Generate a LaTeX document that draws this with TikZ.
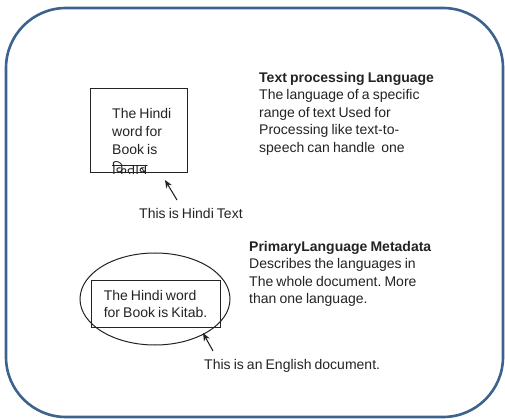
\documentclass[tikz,border=0pt]{standalone}
\usepackage{fontspec}
\setmainfont[WordSpace=0.8]{Liberation Sans}
\newfontfamily\hindifont[Script=Devanagari]{Noto Sans}
\usepackage{tikz}
\usetikzlibrary{shapes,arrows.meta}
\frenchspacing
\definecolor{framecol}{RGB}{60,98,142}
\definecolor{inkcol}{RGB}{35,35,35}
\tikzstyle{arrow} = [line width=1.1pt,inkcol,-{Stealth[length=8pt,width=6.5pt]}]
\tikzstyle{note} = [anchor=north west,inner sep=0pt,align=left,text=inkcol,font=\fontsize{14}{17.5}\selectfont]

\begin{document}
\begin{tikzpicture}[x=1pt,y=-1pt]
    \useasboundingbox (0,0) rectangle (505,419);
    \node[draw=framecol,line width=2.6pt,rectangle,rounded corners=60pt,minimum width=497pt,
        minimum height=409pt,inner sep=0pt] (frame) at (254.5,212.5) {};
    % upper half: hindi text
    \node[draw=inkcol,line width=1pt,rectangle,minimum width=97pt,minimum height=84pt,
        inner sep=0pt] (hindibox) at (138.5,131) {};
    \node[note,font=\fontsize{14}{18}\selectfont] (hinditext) at (112,108)
        {The Hindi\\word for\\Book is\\[2pt]{\hindifont\fontsize{14.5}{18}\selectfont किताब}};
    \node[note] (hindilabel) at (139,208) {This is Hindi Text};
    \coordinate (hinditail) at (177,200);
    \coordinate (hinditip) at (165,180);
    \draw[arrow] (hinditail) -- (hinditip);
    \node[note] (tpl) at (259,72)
        {\textbf{Text processing Language}\\The language of a specific\\range of text Used for\\Processing like text-to-\\speech can handle\ \ one};
    % lower half: english document
    \node[draw=inkcol,line width=1pt,ellipse,minimum width=150pt,minimum height=92pt,
        inner sep=0pt] (docellipse) at (155,299) {};
    \node[draw=inkcol,line width=1pt,rectangle,minimum width=129pt,minimum height=47pt,
        align=left,text=inkcol,font=\fontsize{14}{17}\selectfont] (kitabbox) at (155.5,303.5)
        {The Hindi word\\for Book is Kitab.};
    \node[note] (englabel) at (204,359) {This is an English document.};
    \coordinate (engtail) at (213,351);
    \coordinate (engtip) at (203,333);
    \draw[arrow] (engtail) -- (engtip);
    \node[note] (plm) at (249,241)
        {\textbf{PrimaryLanguage Metadata}\\Describes the languages in\\The whole document. More\\than one language.};
\end{tikzpicture}
\end{document}
